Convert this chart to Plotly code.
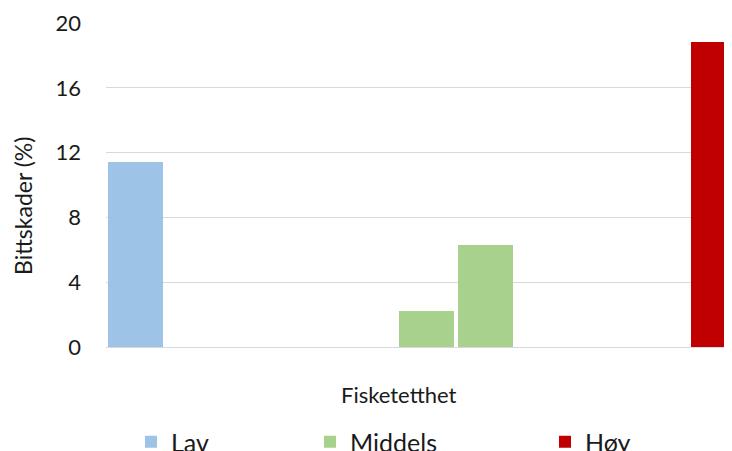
import plotly.graph_objects as go

# Data
series_names = ["Lav", "Middels", "Høy"]
lav_values = [11.4]
middels_values = [2.2, 6.3]
hoy_values = [18.8]
# slot index of each bar within the clustered layout
lav_slots = [0]
middels_slots = [5, 6]
hoy_slots = [10]

colors = {"Lav": "#9DC3E6", "Middels": "#A9D18E", "Høy": "#C00000"}
y_ticks = [0, 4, 8, 12, 16, 20]

# page body has an 8px margin, so figure px = screen px - 8
W, H = 732, 443
OFF = 8
FONT = "Lato, 'Open Sans', sans-serif"
TXT = "#1a1a1a"

L, T = 106 - OFF, 23 - OFF
PR = 732 - OFF          # plot right in figure px
PB = 347 - OFF          # plot bottom in figure px
PW, PH = PR - L, PB - T

fig = go.Figure()
for name, xs, ys, leg in [("Lav", lav_slots, lav_values, "legend"),
                           ("Middels", middels_slots, middels_values, "legend2"),
                           ("Høy", hoy_slots, hoy_values, "legend3")]:
    fig.add_trace(go.Bar(x=xs, y=ys, name=name, width=0.94,
                         marker=dict(color=colors[name], line=dict(width=0)),
                         legend=leg, showlegend=True, hoverinfo="y"))

leg_common = dict(orientation="h", xref="container", yref="container",
                  yanchor="middle", xanchor="left", y=(H - (442 - OFF)) / H,
                  font=dict(family=FONT, size=25, color=TXT),
                  bgcolor="rgba(0,0,0,0)", borderwidth=0)

fig.update_layout(
    width=W, height=H,
    margin=dict(l=L, r=W - PR, t=T, b=H - PB, autoexpand=False),
    paper_bgcolor="white", plot_bgcolor="white",
    font=dict(family=FONT, color=TXT),
    bargap=0,
    xaxis=dict(range=[-0.5, 10.23], showticklabels=False, showgrid=False,
               zeroline=False, showline=False, ticks="", automargin=False),
    yaxis=dict(range=[0, 20], tickvals=y_ticks, showgrid=True,
               gridcolor="#D9D9D9", gridwidth=1, zeroline=True,
               zerolinecolor="#D9D9D9", zerolinewidth=1, showline=False,
               ticks="", ticklabelstandoff=24, automargin=False,
               tickfont=dict(family=FONT, size=22, color=TXT)),
    legend=dict(x=(139 - 2 * OFF) / W, **leg_common),
    legend2=dict(x=(318 - 2 * OFF) / W, **leg_common),
    legend3=dict(x=(553 - 2 * OFF) / W, **leg_common),
    annotations=[
        dict(text="Bittskader (%)", xref="paper", yref="paper",
             x=((23 - OFF) - L) / PW, y=(PB - (206 - OFF)) / PH, textangle=-90,
             xanchor="center", yanchor="middle", showarrow=False,
             font=dict(family=FONT, size=23, color=TXT)),
        dict(text="Fisketetthet", xref="paper", yref="paper",
             x=((399 - OFF) - L) / PW, y=(PB - (394 - OFF)) / PH,
             xanchor="center", yanchor="middle", showarrow=False,
             font=dict(family=FONT, size=22, color=TXT)),
    ],
)

fig.write_html("out.html")
